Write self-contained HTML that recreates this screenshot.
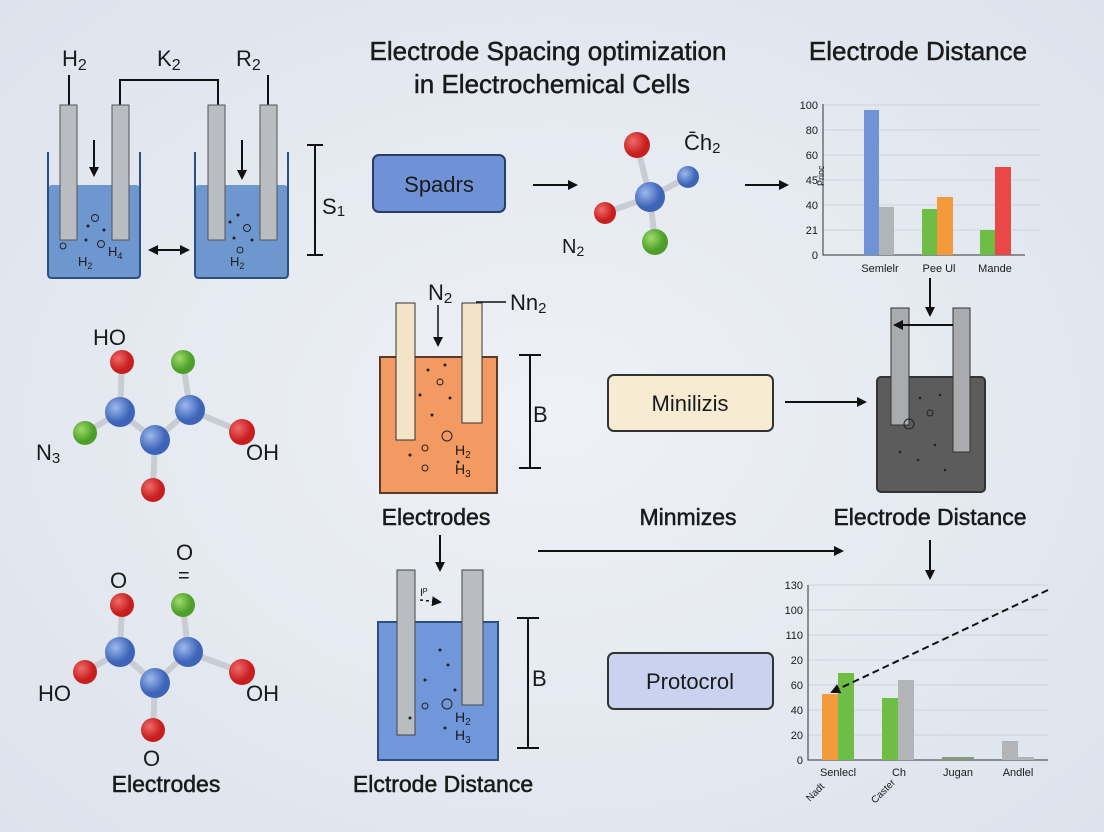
<!DOCTYPE html>
<html><head><meta charset="utf-8"><style>
html,body{margin:0;padding:0;width:1104px;height:832px;overflow:hidden;background:#e3e8ef}
svg{display:block}
text{font-family:"Liberation Sans",sans-serif;fill:#1a1a1a}
.b{stroke:#1a1a1a;stroke-width:0.5px}
</style></head><body>
<svg width="1104" height="832" viewBox="0 0 1104 832">
<defs>
<radialGradient id="bg" cx="50%" cy="50%" r="70%"><stop offset="0" stop-color="#eef1f6"/><stop offset="1" stop-color="#dde3ec"/></radialGradient>
<marker id="ah" markerWidth="10" markerHeight="10" refX="8" refY="5" orient="auto" markerUnits="userSpaceOnUse"><path d="M0,0 L10,5 L0,10 Z" fill="#111"/></marker>
<marker id="ahs" markerWidth="10" markerHeight="10" refX="2" refY="5" orient="auto" markerUnits="userSpaceOnUse"><path d="M10,0 L0,5 L10,10 Z" fill="#111"/></marker>
<radialGradient id="gb" cx="35%" cy="35%"><stop offset="0" stop-color="#9cb8ec"/><stop offset="1" stop-color="#3d64b8"/></radialGradient>
<radialGradient id="gr" cx="35%" cy="35%"><stop offset="0" stop-color="#f06a6a"/><stop offset="1" stop-color="#c81e1e"/></radialGradient>
<radialGradient id="gg" cx="35%" cy="35%"><stop offset="0" stop-color="#9fdc6a"/><stop offset="1" stop-color="#4e9e2a"/></radialGradient>
</defs>
<rect width="1104" height="832" fill="url(#bg)"/>

<text class="b" x="548" y="60" font-size="26" text-anchor="middle">Electrode Spacing optimization</text>
<text class="b" x="552" y="93" font-size="26" text-anchor="middle">in Electrochemical Cells</text>
<text class="b" x="918" y="60" font-size="26" text-anchor="middle">Electrode Distance</text>

<text x="62" y="66" font-size="22">H<tspan font-size="16" dy="4">2</tspan></text>
<text x="157" y="66" font-size="22">K<tspan font-size="16" dy="4">2</tspan></text>
<text x="236" y="66" font-size="22">R<tspan font-size="16" dy="4">2</tspan></text>
<path d="M120,105 V80 H218 V105" fill="none" stroke="#111" stroke-width="2"/>
<line x1="69" y1="75" x2="69" y2="105" stroke="#111" stroke-width="2"/>
<line x1="268" y1="75" x2="268" y2="105" stroke="#111" stroke-width="2"/>
<rect x="48" y="185" width="92" height="93" rx="4" fill="#6f97cf"/>
<path d="M48,152 V274 Q48,278 52,278 H136 Q140,278 140,274 V152" fill="none" stroke="#2d4f80" stroke-width="2"/>
<rect x="195" y="185" width="93" height="93" rx="4" fill="#6f97cf"/>
<path d="M195,152 V274 Q195,278 199,278 H284 Q288,278 288,274 V152" fill="none" stroke="#2d4f80" stroke-width="2"/>
<rect x="60" y="105" width="17" height="135" fill="#b9bcc0" stroke="#555"/>
<rect x="112" y="105" width="17" height="135" fill="#b9bcc0" stroke="#555"/>
<rect x="208" y="105" width="17" height="135" fill="#b9bcc0" stroke="#555"/>
<rect x="260" y="105" width="17" height="135" fill="#b9bcc0" stroke="#555"/>
<line x1="94" y1="140" x2="94" y2="175" stroke="#111" stroke-width="2" marker-end="url(#ah)"/>
<line x1="242" y1="140" x2="242" y2="178" stroke="#111" stroke-width="2" marker-end="url(#ah)"/>
<text x="78" y="266" font-size="13">H<tspan font-size="9" dy="3">2</tspan></text>
<text x="108" y="256" font-size="13">H<tspan font-size="9" dy="3">4</tspan></text>
<text x="230" y="266" font-size="13">H<tspan font-size="9" dy="3">2</tspan></text>
<g fill="none" stroke="#222"><circle cx="95" cy="218" r="3.5"/><circle cx="101" cy="244" r="3.5"/><circle cx="63" cy="246" r="3"/><circle cx="247" cy="228" r="3.5"/><circle cx="240" cy="250" r="3"/></g>
<g fill="#222"><circle cx="88" cy="226" r="1.5"/><circle cx="104" cy="230" r="1.5"/><circle cx="86" cy="240" r="1.5"/><circle cx="238" cy="215" r="1.5"/><circle cx="252" cy="240" r="1.5"/><circle cx="234" cy="238" r="1.5"/><circle cx="230" cy="222" r="1.5"/></g>
<line x1="150" y1="250" x2="188" y2="250" stroke="#111" stroke-width="2" marker-end="url(#ah)" marker-start="url(#ahs)"/>
<path d="M307,145 H323 M315,145 V255 M307,255 H323" stroke="#111" stroke-width="2" fill="none"/>
<text x="322" y="214" font-size="22">S<tspan font-size="15" dy="2">1</tspan></text>

<rect x="373" y="155" width="132" height="57" rx="6" fill="#6f92d6" stroke="#2a3d66" stroke-width="2"/>
<text x="439" y="192" font-size="22" text-anchor="middle">Spadrs</text>
<line x1="533" y1="185" x2="576" y2="185" stroke="#111" stroke-width="2" marker-end="url(#ah)"/>
<line x1="745" y1="185" x2="787" y2="185" stroke="#111" stroke-width="2" marker-end="url(#ah)"/>

<g stroke="#c9cdd3" stroke-width="6"><line x1="650" y1="197" x2="637" y2="145"/><line x1="650" y1="197" x2="688" y2="177"/><line x1="650" y1="197" x2="605" y2="213"/><line x1="650" y1="197" x2="655" y2="242"/></g>
<circle cx="637" cy="145" r="13" fill="url(#gr)"/><circle cx="688" cy="177" r="11" fill="url(#gb)"/><circle cx="605" cy="213" r="11" fill="url(#gr)"/><circle cx="655" cy="242" r="13" fill="url(#gg)"/><circle cx="650" cy="197" r="15" fill="url(#gb)"/>
<text x="684" y="150" font-size="22">C̄h<tspan font-size="15" dy="3">2</tspan></text>
<text x="562" y="253" font-size="20">N<tspan font-size="14" dy="3">2</tspan></text>

<g stroke="#cfd4dc" stroke-width="1"><line x1="823" y1="105" x2="1040" y2="105"/><line x1="823" y1="130" x2="1040" y2="130"/><line x1="823" y1="155" x2="1040" y2="155"/><line x1="823" y1="180" x2="1040" y2="180"/><line x1="823" y1="205" x2="1040" y2="205"/><line x1="823" y1="230" x2="1040" y2="230"/></g>
<path d="M823,104 V255 H1025" stroke="#333" fill="none"/>
<g font-size="11" text-anchor="end"><text x="818" y="109">100</text><text x="818" y="134">80</text><text x="818" y="159">60</text><text x="818" y="184">45</text><text x="818" y="209">40</text><text x="818" y="234">21</text><text x="818" y="259">0</text></g>
<text x="0" y="0" font-size="9" transform="translate(824,186) rotate(-90)">Princ</text>
<rect x="864" y="110" width="15" height="145" fill="#6f93d4"/><rect x="879" y="207" width="15" height="48" fill="#b2b4b7"/>
<rect x="922" y="209" width="15" height="46" fill="#6ebe45"/><rect x="937" y="197" width="16" height="58" fill="#f39a3c"/>
<rect x="980" y="230" width="15" height="25" fill="#6ebe45"/><rect x="995" y="167" width="16" height="88" fill="#e84848"/>
<g font-size="11" text-anchor="middle"><text x="880" y="272">Semlelr</text><text x="939" y="272">Pee Ul</text><text x="995" y="272">Mande</text></g>
<line x1="930" y1="278" x2="930" y2="315" stroke="#111" stroke-width="2" marker-end="url(#ah)"/>

<g stroke="#c9cdd3" stroke-width="6"><line x1="120" y1="412" x2="122" y2="362"/><line x1="120" y1="412" x2="85" y2="433"/><line x1="120" y1="412" x2="155" y2="440"/><line x1="155" y1="440" x2="190" y2="410"/><line x1="190" y1="410" x2="183" y2="362"/><line x1="190" y1="410" x2="242" y2="432"/><line x1="155" y1="440" x2="153" y2="490"/></g>
<circle cx="122" cy="362" r="12" fill="url(#gr)"/><circle cx="183" cy="362" r="12" fill="url(#gg)"/><circle cx="85" cy="433" r="12" fill="url(#gg)"/><circle cx="242" cy="432" r="13" fill="url(#gr)"/><circle cx="153" cy="490" r="12" fill="url(#gr)"/>
<circle cx="120" cy="412" r="15" fill="url(#gb)"/><circle cx="190" cy="410" r="15" fill="url(#gb)"/><circle cx="155" cy="440" r="15" fill="url(#gb)"/>
<text x="93" y="345" font-size="22">HO</text>
<text x="36" y="460" font-size="22">N<tspan font-size="15" dy="3">3</tspan></text>
<text x="246" y="460" font-size="22">OH</text>

<g stroke="#c9cdd3" stroke-width="6"><line x1="120" y1="652" x2="122" y2="605"/><line x1="120" y1="652" x2="85" y2="672"/><line x1="120" y1="652" x2="155" y2="683"/><line x1="155" y1="683" x2="188" y2="652"/><line x1="188" y1="652" x2="183" y2="605"/><line x1="188" y1="652" x2="242" y2="672"/><line x1="155" y1="683" x2="153" y2="730"/></g>
<circle cx="122" cy="605" r="12" fill="url(#gr)"/><circle cx="183" cy="605" r="12" fill="url(#gg)"/><circle cx="85" cy="672" r="12" fill="url(#gr)"/><circle cx="242" cy="672" r="13" fill="url(#gr)"/><circle cx="153" cy="730" r="12" fill="url(#gr)"/>
<circle cx="120" cy="652" r="15" fill="url(#gb)"/><circle cx="188" cy="652" r="15" fill="url(#gb)"/><circle cx="155" cy="683" r="15" fill="url(#gb)"/>
<text x="110" y="588" font-size="22">O</text>
<text x="176" y="560" font-size="22">O</text>
<text x="178" y="582" font-size="20">=</text>
<text x="38" y="701" font-size="22">HO</text>
<text x="246" y="701" font-size="22">OH</text>
<text x="143" y="766" font-size="22">O</text>
<text class="b" x="166" y="792" font-size="23" text-anchor="middle">Electrodes</text>

<text x="428" y="300" font-size="22">N<tspan font-size="15" dy="3">2</tspan></text>
<text x="510" y="310" font-size="22">Nn<tspan font-size="15" dy="3">2</tspan></text>
<line x1="476" y1="302" x2="506" y2="302" stroke="#111" stroke-width="1.5"/>
<path d="M380,357 H497 V493 H380 Z" fill="#f39a62" stroke="#5a3a2a" stroke-width="2"/>
<rect x="396" y="303" width="19" height="137" fill="#f3e4c8" stroke="#333"/>
<rect x="462" y="303" width="20" height="120" fill="#f3e4c8" stroke="#333"/>
<line x1="438" y1="305" x2="438" y2="345" stroke="#111" stroke-width="1.5" marker-end="url(#ah)"/>
<g fill="none" stroke="#222"><circle cx="447" cy="436" r="5"/><circle cx="425" cy="448" r="3"/><circle cx="440" cy="382" r="3"/><circle cx="425" cy="468" r="3"/></g>
<g fill="#222"><circle cx="428" cy="370" r="1.5"/><circle cx="445" cy="365" r="1.5"/><circle cx="420" cy="395" r="1.5"/><circle cx="450" cy="398" r="1.5"/><circle cx="432" cy="415" r="1.5"/><circle cx="458" cy="462" r="1.5"/><circle cx="410" cy="455" r="1.5"/></g>
<text x="455" y="455" font-size="14">H<tspan font-size="10" dy="3">2</tspan></text>
<text x="455" y="474" font-size="14">H<tspan font-size="10" dy="3">3</tspan></text>
<path d="M519,355 H541 M530,355 V468 M519,468 H541" stroke="#111" stroke-width="2" fill="none"/>
<text x="533" y="422" font-size="22">B</text>
<text class="b" x="436" y="525" font-size="23" text-anchor="middle">Electrodes</text>
<line x1="440" y1="535" x2="440" y2="570" stroke="#111" stroke-width="2" marker-end="url(#ah)"/>

<rect x="608" y="375" width="165" height="56" rx="6" fill="#f7ebd3" stroke="#333" stroke-width="2"/>
<text x="690" y="411" font-size="22" text-anchor="middle">Minilizis</text>
<line x1="785" y1="402" x2="865" y2="402" stroke="#111" stroke-width="2" marker-end="url(#ah)"/>
<rect x="877" y="377" width="108" height="115" rx="4" fill="#5c5c5c" stroke="#333" stroke-width="2"/>
<rect x="891" y="308" width="18" height="117" fill="#a9abae" stroke="#333"/>
<rect x="953" y="308" width="17" height="144" fill="#a9abae" stroke="#333"/>
<line x1="953" y1="325" x2="895" y2="325" stroke="#111" stroke-width="2" marker-end="url(#ah)"/>
<g fill="none" stroke="#222"><circle cx="909" cy="424" r="5"/><circle cx="930" cy="413" r="3"/></g>
<g fill="#222"><circle cx="920" cy="398" r="1.3"/><circle cx="940" cy="395" r="1.3"/><circle cx="935" cy="445" r="1.3"/><circle cx="918" cy="460" r="1.3"/><circle cx="945" cy="470" r="1.3"/><circle cx="900" cy="452" r="1.3"/></g>
<text class="b" x="688" y="525" font-size="23" text-anchor="middle">Minmizes</text>
<text class="b" x="930" y="525" font-size="23" text-anchor="middle">Electrode Distance</text>
<line x1="538" y1="551" x2="842" y2="551" stroke="#111" stroke-width="2" marker-end="url(#ah)"/>
<line x1="930" y1="540" x2="930" y2="578" stroke="#111" stroke-width="2" marker-end="url(#ah)"/>

<path d="M378,622 H498 V760 H378 Z" fill="#6f97d9" stroke="#2d4f80" stroke-width="2"/>
<rect x="397" y="570" width="18" height="165" fill="#b9bcc0" stroke="#444"/>
<rect x="462" y="570" width="21" height="135" fill="#b9bcc0" stroke="#444"/>
<line x1="420" y1="600" x2="440" y2="602" stroke="#111" stroke-width="1.5" stroke-dasharray="3,3" marker-end="url(#ah)"/>
<text x="420" y="596" font-size="11">Iᴾ</text>
<g fill="none" stroke="#222"><circle cx="447" cy="704" r="5"/><circle cx="425" cy="706" r="3"/></g>
<g fill="#222"><circle cx="440" cy="650" r="1.5"/><circle cx="448" cy="665" r="1.5"/><circle cx="425" cy="680" r="1.5"/><circle cx="455" cy="690" r="1.5"/><circle cx="410" cy="718" r="1.5"/><circle cx="445" cy="728" r="1.5"/></g>
<text x="455" y="722" font-size="14">H<tspan font-size="10" dy="3">2</tspan></text>
<text x="455" y="740" font-size="14">H<tspan font-size="10" dy="3">3</tspan></text>
<path d="M517,618 H539 M528,618 V748 M517,748 H539" stroke="#111" stroke-width="2" fill="none"/>
<text x="532" y="686" font-size="22">B</text>
<text class="b" x="443" y="792" font-size="23" text-anchor="middle">Elctrode Distance</text>

<rect x="608" y="653" width="165" height="56" rx="6" fill="#c9d2ee" stroke="#333" stroke-width="2"/>
<text x="690" y="689" font-size="22" text-anchor="middle">Protocrol</text>

<g stroke="#cfd4dc" stroke-width="1"><line x1="808" y1="585" x2="1048" y2="585"/><line x1="808" y1="610" x2="1048" y2="610"/><line x1="808" y1="635" x2="1048" y2="635"/><line x1="808" y1="660" x2="1048" y2="660"/><line x1="808" y1="685" x2="1048" y2="685"/><line x1="808" y1="710" x2="1048" y2="710"/><line x1="808" y1="735" x2="1048" y2="735"/></g>
<path d="M808,585 V760 H1048" stroke="#333" fill="none"/>
<g font-size="11" text-anchor="end"><text x="803" y="589">130</text><text x="803" y="614">100</text><text x="803" y="639">110</text><text x="803" y="664">20</text><text x="803" y="689">60</text><text x="803" y="714">40</text><text x="803" y="739">20</text><text x="803" y="764">0</text></g>
<rect x="822" y="694" width="16" height="66" fill="#f39a3c"/><rect x="838" y="673" width="16" height="87" fill="#6ebe45"/>
<rect x="882" y="698" width="16" height="62" fill="#6ebe45"/><rect x="898" y="680" width="16" height="80" fill="#b2b4b7"/>
<rect x="942" y="757" width="32" height="3" fill="#8a9a80"/>
<rect x="1002" y="741" width="16" height="19" fill="#b2b4b7"/><rect x="1018" y="757" width="16" height="3" fill="#b2b4b7"/>
<line x1="1048" y1="590" x2="832" y2="692" stroke="#111" stroke-width="2" stroke-dasharray="7,4" marker-end="url(#ah)"/>
<g font-size="11" text-anchor="middle"><text x="838" y="776">Senlecl</text><text x="899" y="776">Ch</text><text x="958" y="776">Jugan</text><text x="1018" y="776">Andlel</text></g>
<text x="0" y="0" font-size="10" transform="translate(810,802) rotate(-45)">Nadt</text>
<text x="0" y="0" font-size="10" transform="translate(875,804) rotate(-45)">Caster</text>
</svg>
</body></html>
